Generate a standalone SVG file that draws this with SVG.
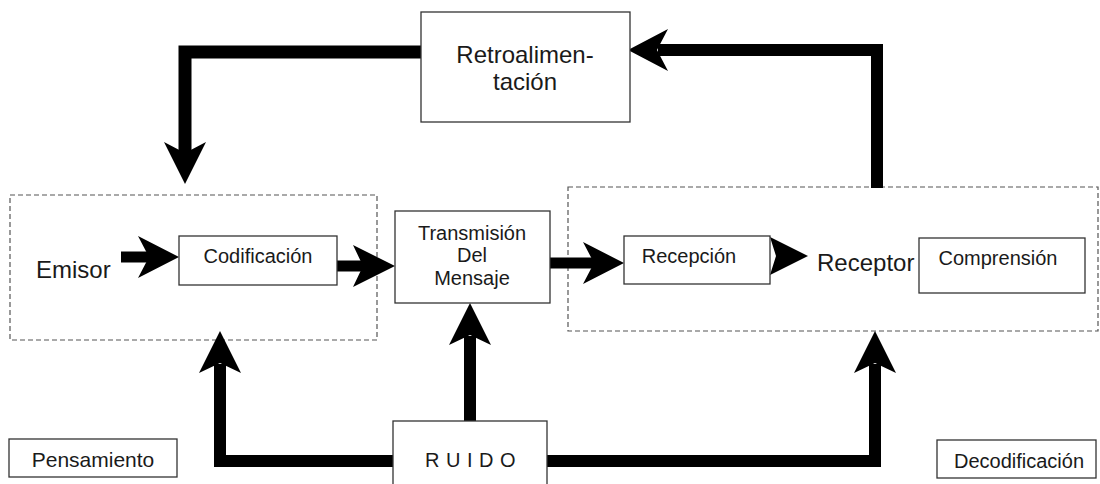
<svg xmlns="http://www.w3.org/2000/svg" width="1100" height="484" viewBox="0 0 1100 484">
  <style>
    .box { fill: #fff; stroke: #333; stroke-width: 1.3; }
    .dash { fill: none; stroke: #555; stroke-width: 1.2; stroke-dasharray: 5 3; }
    .t { font-family: "Liberation Sans", Arial, sans-serif; fill: #1a1a1a; }
    .shaft { fill: none; stroke: #000; stroke-linejoin: miter; stroke-linecap: butt; }
    .head { fill: #000; }
  </style>
  <rect width="1100" height="484" fill="#fff"/>

  <g id="grupo-emisor">
    <rect class="dash" x="10" y="195" width="367" height="145"/>
  </g>
  <g id="grupo-receptor">
    <rect class="dash" x="568" y="187" width="530" height="144"/>
  </g>

  <g id="connectors">
    <!-- feedback: Retroalimentacion -> Emisor -->
    <path class="shaft" stroke-width="13" d="M421,52 H185 V153"/>
    <polygon class="head" points="185,184 164,142 185,153 206,142"/>
    <!-- feedback: Receptor -> Retroalimentacion -->
    <path class="shaft" stroke-width="12" d="M877,188 V50 H658"/>
    <polygon class="head" points="628,50 668,29 657,50 668,71"/>
    <!-- Emisor -> Codificacion -->
    <path class="shaft" stroke-width="11" d="M121,257 H149"/>
    <polygon class="head" points="179,257 138,236 149,257 138,278"/>
    <!-- Codificacion -> Transmision -->
    <path class="shaft" stroke-width="11" d="M337,266 H363"/>
    <polygon class="head" points="395,266 353,245 363,266 353,287"/>
    <!-- Transmision -> Recepcion -->
    <path class="shaft" stroke-width="11" d="M550,263 H594"/>
    <polygon class="head" points="624,263 583,242 594,263 583,284"/>
    <!-- Recepcion -> Receptor -->
    <polygon class="head" points="808,256 770,237 776,256 770,275"/>
    <!-- RUIDO -> Emisor group -->
    <path class="shaft" stroke-width="12" d="M393,461 H220 V364"/>
    <polygon class="head" points="220,331 199,373 220,363 241,373"/>
    <!-- RUIDO -> Transmision -->
    <path class="shaft" stroke-width="12" d="M470,421 V336"/>
    <polygon class="head" points="470,303 449,345 470,335 491,345"/>
    <!-- RUIDO -> Receptor group -->
    <path class="shaft" stroke-width="12" d="M547,461 H875 V364"/>
    <polygon class="head" points="875,331 854,373 875,363 896,373"/>
  </g>

  <g id="retroalimentacion">
    <rect class="box" x="421" y="12" width="209" height="110"/>
    <text class="t" x="525" y="63" font-size="24" text-anchor="middle">Retroalimen-</text>
    <text class="t" x="525" y="90" font-size="24" text-anchor="middle">tación</text>
  </g>

  <g id="emisor">
    <text class="t" x="36" y="278" font-size="24">Emisor</text>
  </g>

  <g id="codificacion">
    <rect class="box" x="179" y="236" width="158" height="49"/>
    <text class="t" x="258" y="263" font-size="20" text-anchor="middle">Codificación</text>
  </g>

  <g id="transmision">
    <rect class="box" x="395" y="211" width="155" height="92"/>
    <text class="t" x="472" y="240" font-size="20" text-anchor="middle">Transmisión</text>
    <text class="t" x="472" y="262" font-size="20" text-anchor="middle">Del</text>
    <text class="t" x="472" y="285" font-size="20" text-anchor="middle">Mensaje</text>
  </g>

  <g id="recepcion">
    <rect class="box" x="624" y="236" width="146" height="48"/>
    <text class="t" x="689" y="263" font-size="20" text-anchor="middle">Recepción</text>
  </g>

  <g id="receptor">
    <text class="t" x="817" y="271" font-size="24">Receptor</text>
  </g>

  <g id="comprension">
    <rect class="box" x="919" y="238" width="166" height="55"/>
    <text class="t" x="998" y="265" font-size="20" text-anchor="middle">Comprensión</text>
  </g>

  <g id="ruido">
    <rect class="box" x="393" y="421" width="154" height="80"/>
    <text class="t" x="425" y="467" font-size="20" letter-spacing="6.5">RUIDO</text>
  </g>

  <g id="pensamiento">
    <rect class="box" x="9" y="439" width="168" height="38"/>
    <text class="t" x="93" y="467" font-size="21" text-anchor="middle">Pensamiento</text>
  </g>

  <g id="decodificacion">
    <rect class="box" x="937" y="440" width="159" height="38"/>
    <text class="t" x="1019" y="468" font-size="20" text-anchor="middle">Decodificación</text>
  </g>
</svg>
